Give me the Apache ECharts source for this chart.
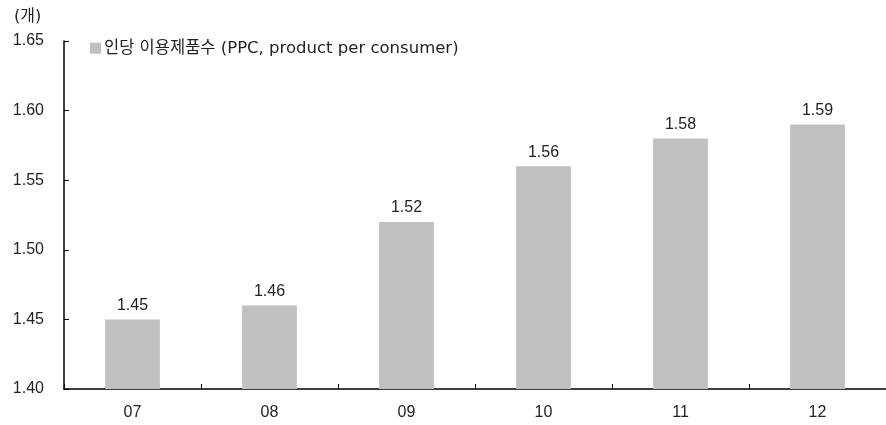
<!DOCTYPE html>
<html>
<head>
<meta charset="utf-8">
<script src="https://cdn.jsdelivr.net/npm/echarts@6/dist/echarts.min.js"></script>
<style>
html,body{margin:0;padding:0;background:#fff;}
#chart{width:886px;height:425px;}
</style>
</head>
<body>
<div id="chart"></div>
<script>
// Years (two-digit) on the category axis
const categories = ['07', '08', '09', '10', '11', '12'];
// Products used per consumer
const ppcValues = [1.45, 1.46, 1.52, 1.56, 1.58, 1.59];
const seriesName = '인당 이용제품수 (PPC, product per consumer)';
const unitLabel = '(개)';

const font = '"Liberation Sans", "Noto Sans CJK KR", Arial, sans-serif';
const wideFont = '"DejaVu Sans", "Noto Sans CJK KR", sans-serif';
const chart = echarts.init(document.getElementById('chart'));
chart.setOption({
  animation: false,
  textStyle: { fontFamily: font },
  grid: { left: 64, right: 0, top: 41, bottom: 36 },
  legend: {
    left: 85, top: 35,
    itemWidth: 11, itemHeight: 11, itemGap: 4,
    icon: 'rect',
    textStyle: { fontSize: 16.5, color: '#222', fontFamily: wideFont, padding: [0, 0, 0, -2] },
    data: [seriesName]
  },
  graphic: [{
    type: 'text', left: 14, top: 9,
    style: { text: unitLabel, font: '16px ' + wideFont, fill: '#222' }
  }],
  xAxis: {
    type: 'category',
    data: categories,
    axisLine: { lineStyle: { color: '#000', width: 1.5 } },
    axisTick: { show: true, inside: true, length: 5, alignWithLabel: false, lineStyle: { color: '#000' } },
    axisLabel: { fontSize: 16, color: '#222', margin: 16 }
  },
  yAxis: {
    type: 'value',
    min: 1.40, max: 1.65, interval: 0.05,
    axisLine: { show: true, lineStyle: { color: '#000', width: 1.5 } },
    axisTick: { show: true, inside: true, length: 5, lineStyle: { color: '#000' } },
    splitLine: { show: false },
    axisLabel: { fontSize: 16, color: '#222', margin: 20, padding: [4, 0, 0, 0], formatter: v => v.toFixed(2) }
  },
  series: [{
    name: seriesName,
    type: 'bar',
    data: ppcValues,
    barWidth: '40%',
    itemStyle: { color: '#c0c0c0' },
    label: {
      show: true, position: 'top', distance: 6,
      fontSize: 16, color: '#222',
      formatter: p => p.value.toFixed(2)
    }
  }]
});
</script>
</body>
</html>
